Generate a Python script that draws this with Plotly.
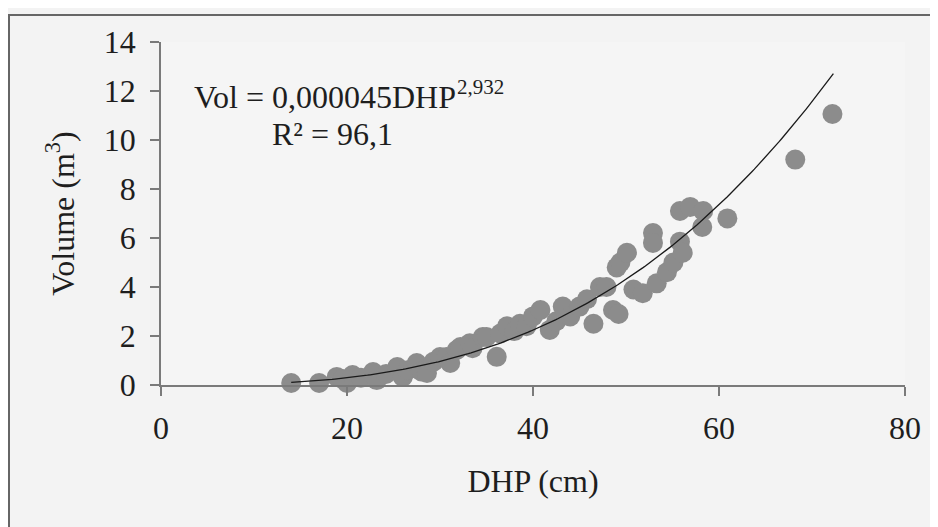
import numpy as np
import plotly.graph_objects as go

# Observed trees
dhp = [14.0, 17.0, 18.9, 19.5, 20.0, 20.6, 21.5, 22.8, 23.2, 24.2, 25.4, 26.0, 26.5,
       27.5, 28.0, 28.6, 29.3, 30.0, 30.7, 31.1, 31.8, 32.2, 33.2, 33.5, 34.6, 35.0,
       36.1, 36.5, 37.2, 38.0, 38.6, 39.3, 40.0, 40.8, 41.8, 42.5, 43.2, 44.0, 45.0,
       45.8, 46.5, 47.2, 47.9, 48.6, 49.2, 49.0, 49.4, 50.1, 50.8, 51.8, 52.9, 52.9,
       53.3, 54.4, 55.1, 55.8, 56.1, 55.8, 56.9, 58.3, 58.2, 60.9, 68.2, 72.2]
vol = [0.08, 0.08, 0.33, 0.25, 0.08, 0.41, 0.30, 0.53, 0.20, 0.45, 0.73, 0.33, 0.60,
       0.90, 0.55, 0.49, 0.95, 1.14, 1.14, 0.90, 1.43, 1.55, 1.70, 1.50, 1.96, 1.96,
       1.15, 2.10, 2.40, 2.20, 2.50, 2.40, 2.80, 3.06, 2.25, 2.60, 3.20, 2.80, 3.20,
       3.50, 2.50, 4.00, 4.00, 3.06, 2.90, 4.80, 5.00, 5.40, 3.90, 3.75, 6.20, 5.80,
       4.15, 4.60, 5.00, 5.85, 5.40, 7.10, 7.27, 7.10, 6.45, 6.80, 9.20, 11.06]

# Fitted model shown on the chart: Vol = a * DHP^b
coef_a = 0.000045
coef_b = 2.932
fit_min, fit_max = 14.0, 72.3

x_ticks = [0, 20, 40, 60, 80]
y_ticks = [0, 2, 4, 6, 8, 10, 12, 14]

fit_x = np.linspace(fit_min, fit_max, 200)
fit_y = coef_a * fit_x ** coef_b

font_family = "Liberation Serif, DejaVu Serif, serif"
txt_col = "#1e1e1e"
axis_col = "#7a7a7a"

fig = go.Figure()
fig.add_trace(go.Scatter(
    x=dhp, y=vol, mode="markers",
    marker=dict(size=20, color="#8c8c8c", line=dict(width=0)),
    cliponaxis=False, showlegend=False,
))
fig.add_trace(go.Scatter(
    x=fit_x, y=fit_y, mode="lines",
    line=dict(color="#1a1a1a", width=1.3),
    cliponaxis=False, showlegend=False,
))

fig.add_annotation(
    x=3.3, y=11.75, xref="x", yref="y", xanchor="left", yanchor="middle",
    text="Vol = 0,000045DHP", showarrow=False,
    font=dict(family=font_family, size=32, color=txt_col),
)
fig.add_annotation(
    x=31.6, y=12.15, xref="x", yref="y", xanchor="left", yanchor="middle",
    text="2,932", showarrow=False,
    font=dict(family=font_family, size=21, color=txt_col),
)
fig.add_annotation(
    x=11.7, y=10.25, xref="x", yref="y", xanchor="left", yanchor="middle",
    text="R² = 96,1", showarrow=False,
    font=dict(family=font_family, size=32, color=txt_col),
)

# outer frame of the scanned chart
fig.add_shape(type="rect", xref="paper", yref="paper",
              x0=-0.2043, x1=1.3, y0=-0.6, y1=1.0787,
              line=dict(color="#666666", width=2), fillcolor="rgba(0,0,0,0)",
              layer="below")

fig.update_layout(
    width=930, height=519,
    margin=dict(l=153, r=33, t=34, b=142, autoexpand=False),
    paper_bgcolor="#f3f3f3", plot_bgcolor="#f5f5f5",
    font=dict(family=font_family, size=32, color=txt_col),
    xaxis=dict(
        range=[0, 80], tickvals=x_ticks, showgrid=False, zeroline=False,
        showline=True, linecolor=axis_col, linewidth=1.5,
        ticks="outside", ticklen=9, tickcolor=axis_col, tickwidth=1.5,
        ticklabelstandoff=5, automargin=False,
        title=dict(text="DHP (cm)", font=dict(size=32), standoff=24),
    ),
    yaxis=dict(
        range=[0, 14], tickvals=y_ticks, showgrid=False, zeroline=False,
        showline=True, linecolor=axis_col, linewidth=1.5,
        ticks="outside", ticklen=9, tickcolor=axis_col, tickwidth=1.5,
        ticklabelstandoff=8, automargin=False,
        title=dict(text="Volume (m<sup>3</sup>)", font=dict(size=32), standoff=20),
    ),
)

fig.write_html("out.html")
